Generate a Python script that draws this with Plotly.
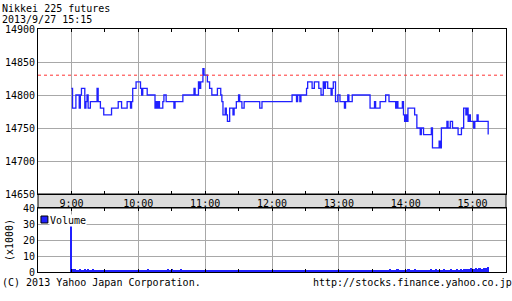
import pandas as pd
import plotly.graph_objects as go

DAY = "2013-09-27"
FONT = "DejaVu Sans Mono"

# ---- data ----
title_lines = ["Nikkei 225 futures", "2013/9/27 15:15"]
footer_left = "(C) 2013 Yahoo Japan Corporation."
footer_right = "http://stocks.finance.yahoo.co.jp"

# price step changes: minutes after 9:00 -> price
price_minutes = [0, 1, 4, 7, 8, 9, 12, 13, 14, 15, 17, 23, 24, 26, 29, 36, 42, 45, 50, 53,
                 54, 55, 58, 62, 63, 64, 68, 75, 76, 77, 78, 79, 82, 83, 85, 92, 93, 100, 110, 111,
                 114, 115, 116, 118, 119, 122, 124, 126, 131, 134, 135, 136, 138, 139, 140, 142, 145, 146, 148, 150,
                 151, 153, 155, 169, 171, 198, 202, 203, 205, 206, 211, 212, 216, 218, 222, 224, 226, 227, 228, 230,
                 233, 234, 235, 237, 239, 241, 245, 246, 248, 249, 252, 268, 272, 273, 277, 282, 285, 291, 292, 293,
                 297, 298, 299, 300, 301, 302, 308, 310, 313, 314, 316, 323, 324, 330, 331, 332, 337, 338, 340, 342,
                 347, 350, 352, 354, 355, 356, 357, 358, 361, 362, 364, 365, 374]
price_values = [14810, 14780, 14800, 14780, 14800, 14810, 14780, 14790, 14800, 14780, 14790, 14810, 14790, 14780, 14770, 14780, 14790, 14780, 14790, 14780,
                14790, 14810, 14820, 14810, 14800, 14810, 14800, 14780, 14790, 14780, 14790, 14780, 14790, 14800, 14790, 14780, 14790, 14800, 14810, 14800,
                14820, 14810, 14820, 14840, 14830, 14820, 14810, 14800, 14810, 14800, 14790, 14770, 14780, 14770, 14760, 14780, 14770, 14780, 14790, 14800,
                14790, 14780, 14790, 14780, 14790, 14800, 14790, 14800, 14790, 14800, 14810, 14820, 14810, 14820, 14810, 14800, 14820, 14810, 14820, 14810,
                14800, 14810, 14820, 14790, 14800, 14790, 14780, 14790, 14800, 14790, 14800, 14780, 14790, 14780, 14790, 14800, 14790, 14780, 14790, 14780,
                14790, 14770, 14760, 14770, 14760, 14780, 14770, 14750, 14740, 14750, 14740, 14750, 14720, 14730, 14720, 14750, 14760, 14750, 14760, 14750,
                14740, 14750, 14780, 14770, 14780, 14760, 14770, 14760, 14750, 14760, 14770, 14760, 14740]
prev_close = 14830

# per-minute volume (contracts), starting 9:00
volumes = [
    31200, 1640, 1280, 1820, 1060, 1520, 960, 1380, 2040, 1160, 1460, 900, 1760, 1220, 1080, 1940, 1400, 1040, 1280, 1620, 880, 1120, 1440, 960, 1300,
    1180, 960, 1520, 1040, 1360, 880, 1220, 980, 1440, 1120, 860, 1280, 1020, 900, 1380, 1060, 940, 1160, 1520, 940, 860, 1240, 1080, 920, 1160,
    920, 1440, 1060, 880, 1220, 960, 1100, 870, 1280, 1040, 900, 1160, 1380, 1020, 860, 900, 1200, 1040, 1480, 1760, 1240, 1060, 940, 880, 1120,
    1360, 1040, 1220, 900, 1060, 880, 940, 1240, 1020, 1160, 880, 1380, 1640, 1120, 940, 1820, 1520, 1260, 1080, 960, 1440, 1180, 1340, 1660, 1220,
    1080, 920, 880, 1040, 1220, 960, 860, 880, 1140, 1000, 900, 860, 920, 1060, 1240, 980, 870, 900, 1120, 960, 860, 900, 880, 1040, 940,
    900, 860, 960, 1040, 880, 880, 850, 870, 920, 860, 900, 850, 870, 1020, 880, 860, 850, 920, 900, 860, 850, 880, 900, 860, 900,
    870, 860, 850, 900, 860, 880, 850, 860, 850, 870, 850, 860, 860, 850, 870, 850, 860, 850, 860, 850, 850, 870, 860, 850, 860,
    850, 860, 860, 850, 870, 860, 850, 900, 870, 860, 900, 870, 1040, 940, 900, 880, 860, 960, 900, 1120, 1020, 880, 880, 920, 1060,
    960, 900, 870, 900, 880, 860, 900, 870, 860, 860, 850, 900, 860, 850, 860, 870, 860, 850, 860, 850, 880, 860, 850, 860, 900,
    870, 900, 860, 900, 1040, 940, 880, 860, 900, 960, 900, 860, 1040, 920, 880, 900, 870, 1020, 880, 870, 900, 860, 940, 900, 860,
    880, 880, 860, 920, 900, 870, 860, 880, 860, 900, 850, 870, 900, 860, 870, 900, 900, 860, 980, 900, 1120, 1020, 940, 1240, 1160,
    1060, 1220, 1440, 1160, 1300, 1080, 1380, 1520, 1240, 1160, 1420, 1660, 1380, 1280, 1520, 1180, 1360, 1840, 1620, 1480, 1300, 1560, 1400, 1220, 1120,
    1300, 1440, 1760, 1580, 1280, 1420, 1180, 1340, 1640, 1520, 1380, 1220, 1480, 1160, 1320, 1440, 1260, 1140, 1360, 1500, 1240, 1120, 1380, 1620, 1480,
    1360, 1520, 1680, 1420, 1300, 1560, 1380, 1240, 1460, 1620, 1520, 1380, 1240, 1160, 1420, 1540, 1680, 1380, 1460, 1300, 1560, 1720, 1440, 1360, 1500,
    1620, 1520, 1780, 1880, 1640, 1520, 2080, 1760, 1900, 2240, 1960, 1740, 2120, 2300, 1840, 2060, 2360, 2480, 2180, 1960, 2240, 2520, 2700, 2360, 3100,
]

price_ticks = [14650, 14700, 14750, 14800, 14850, 14900]
volume_ticks = [0, 10, 20, 30, 40]

# ---- build ----
start = pd.Timestamp(f"{DAY} 09:00")
px_times = [start + pd.Timedelta(minutes=m) for m in price_minutes]
vol_times = [start + pd.Timedelta(minutes=i) for i in range(len(volumes))]
vol_k = [v / 1000 for v in volumes]

xr = [f"{DAY} 08:30", f"{DAY} 15:30"]
GRID = "#a8a8a8"
BLUE = "#2020ff"

fig = go.Figure()
fig.add_trace(go.Scatter(x=px_times, y=price_values, mode="lines", line_shape="hv",
                         line=dict(color=BLUE, width=1.3), xaxis="x", yaxis="y", showlegend=False))
fig.add_trace(go.Bar(x=vol_times, y=vol_k, width=50000, marker=dict(color=BLUE, line=dict(width=0)),
                     xaxis="x2", yaxis="y2", showlegend=False))
fig.add_trace(go.Scatter(x=xr, y=[prev_close, prev_close], mode="lines",
                         line=dict(color="#ff3333", width=1, dash="3px,3px"),
                         xaxis="x", yaxis="y", showlegend=False))

main_bottom = (272 - 194) / 243
vol_top = (272 - 208) / 243

common_x = dict(type="date", range=xr, showgrid=True, gridcolor=GRID, gridwidth=1,
                showline=True, linecolor="black", linewidth=1, mirror="allticks",
                ticks="inside", ticklen=3, tickcolor="black",
                tick0=f"{DAY} 09:00", dtick=3600000, zeroline=False,
                minor=dict(ticks="inside", ticklen=3, tickcolor="black", dtick=1800000, showgrid=False))

fig.update_layout(
    width=512, height=301,
    margin=dict(l=34, r=5, t=29, b=29),
    paper_bgcolor="white", plot_bgcolor="white",
    font=dict(family=FONT, size=10, color="black"),
    bargap=0,
    xaxis=dict(**common_x, domain=[0, 1], anchor="y", tickformat="%-H:%M",
               tickfont=dict(family=FONT, size=10, color="black")),
    yaxis=dict(domain=[main_bottom, 1], range=[price_ticks[0], price_ticks[-1]], tickvals=price_ticks,
               tickformat="d", showgrid=True, gridcolor=GRID, showline=True, linecolor="black", mirror=True,
               zeroline=False, ticks="", tickfont=dict(family=FONT, size=10, color="black")),
    xaxis2=dict(**common_x, domain=[0, 1], anchor="y2", matches="x", showticklabels=False),
    yaxis2=dict(domain=[0, vol_top], range=[volume_ticks[0], volume_ticks[-1]], tickvals=volume_ticks,
                tickformat="d", showgrid=True, gridcolor=GRID, showline=True, linecolor="black", mirror=True,
                zeroline=False, ticks="", tickfont=dict(family=FONT, size=10, color="black")),
    showlegend=False,
)

# gray time-label band
fig.add_shape(type="rect", xref="paper", yref="paper", x0=0, x1=1, y0=vol_top, y1=main_bottom,
              fillcolor="#dcdcdc", line=dict(color="black", width=1), layer="below")

# legend (square + label)
fig.add_shape(type="rect", xref="paper", yref="paper", x0=3 / 473, x1=10 / 473,
              y0=vol_top - 15 / 243, y1=vol_top - 8 / 243,
              fillcolor=BLUE, line=dict(color="black", width=1))
fig.add_annotation(text="Volume", xref="paper", yref="paper", x=12 / 473, xshift=-1, y=vol_top - 12.5 / 243,
                   xanchor="left", yanchor="middle", showarrow=False, font=dict(family=FONT, size=10),
                   bgcolor="white", borderpad=0)

# volume axis unit label
fig.add_annotation(text="(x1000)", xref="paper", yref="paper", x=0, xshift=-28, y=vol_top / 2,
                   textangle=-90, xanchor="center", yanchor="middle", showarrow=False,
                   font=dict(family=FONT, size=10))

# titles
fig.add_annotation(text=title_lines[0], xref="paper", yref="paper", x=0, xshift=-37, y=1, yshift=21,
                   xanchor="left", yanchor="middle", showarrow=False, font=dict(family=FONT, size=10), borderpad=0)
fig.add_annotation(text=title_lines[1], xref="paper", yref="paper", x=0, xshift=-37, y=1, yshift=10,
                   xanchor="left", yanchor="middle", showarrow=False, font=dict(family=FONT, size=10), borderpad=0)
# footers
fig.add_annotation(text=footer_left, xref="paper", yref="paper", x=0, xshift=-37, y=0, yshift=-10,
                   xanchor="left", yanchor="middle", showarrow=False, font=dict(family=FONT, size=10), borderpad=0)
fig.add_annotation(text=footer_right, xref="paper", yref="paper", x=1, xshift=7, y=0, yshift=-10,
                   xanchor="right", yanchor="middle", showarrow=False, font=dict(family=FONT, size=10), borderpad=0)

fig.write_html("out.html")
